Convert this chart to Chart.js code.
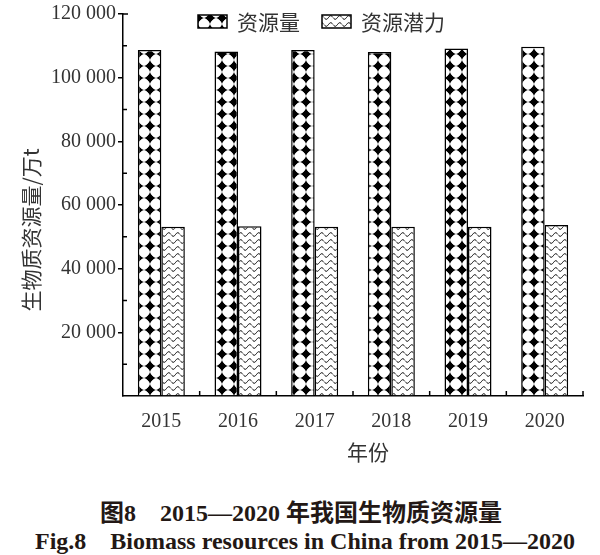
<!DOCTYPE html>
<html>
<head>
<meta charset="utf-8">
<script src="https://cdn.jsdelivr.net/npm/chart.js@4.4.1/dist/chart.umd.min.js"></script>
<style>
    body { margin: 0; background: #fff; overflow: hidden; }
    #wrap { position: relative; width: 600px; height: 555px; }
    #chart { position: absolute; left: 0; top: 0; }
    .cap { position: absolute; font-weight: bold; color: #231815;
           font-family: "Liberation Serif", "Noto Sans CJK SC", serif; font-size: 24px; white-space: pre; line-height: 28px; }
</style>
</head>
<body>
<div id="wrap">
    <canvas id="chart" width="600" height="470"></canvas>
    <div class="cap" style="top:499px; left:100px;">图8　2015—2020 年我国生物质资源量</div>
    <div class="cap" style="top:527px; left:35px;">Fig.8　Biomass resources in China from 2015—2020</div>
</div>
<script>
const years = ['2015', '2016', '2017', '2018', '2019', '2020'];
const resourceAmount = [108700, 108200, 108700, 108100, 109200, 109700];
const resourcePotential = [53200, 53300, 53200, 53200, 53200, 53700];
const yTicks = [20000, 40000, 60000, 80000, 100000, 120000];

const numFont = { family: '"Liberation Serif", serif', size: 20 };
const cjkFont = '"Noto Sans CJK SC", sans-serif';
const textColor = '#333';

// diamond / star tile for 资源量
function diamondPattern() {
    const c = document.createElement('canvas');
    c.width = 12; c.height = 12;
    const g = c.getContext('2d');
    g.fillStyle = '#fff';
    g.fillRect(0, 0, 12, 12);
    g.fillStyle = '#000';
    g.beginPath();
    g.moveTo(6, 0);
    g.quadraticCurveTo(7.2, 4.8, 12, 6);
    g.quadraticCurveTo(7.2, 7.2, 6, 12);
    g.quadraticCurveTo(4.8, 7.2, 0, 6);
    g.quadraticCurveTo(4.8, 4.8, 6, 0);
    g.fill();
    g.beginPath();
    g.moveTo(6, 1.5); g.lineTo(10.5, 6); g.lineTo(6, 10.5); g.lineTo(1.5, 6);
    g.closePath();
    g.fill();
    return g.createPattern(c, 'repeat');
}

// wavy lines tile for 资源潜力
function wavePattern() {
    const c = document.createElement('canvas');
    c.width = 9; c.height = 7;
    const g = c.getContext('2d');
    g.fillStyle = '#fff';
    g.fillRect(0, 0, 9, 7);
    g.strokeStyle = '#000';
    g.lineWidth = 1;
    g.beginPath();
    for (let x = 0; x <= 9; x += 0.5) {
        const y = 3.5 + 1.8 * Math.sin(x / 9 * Math.PI * 2);
        if (x === 0) g.moveTo(x, y); else g.lineTo(x, y);
    }
    g.stroke();
    return g.createPattern(c, 'repeat');
}

const fmt = v => String(v).replace(/\B(?=(\d{3})+(?!\d))/g, ' ');

// inward minor ticks on y, inward boundary ticks on x, legend and axis titles
const decoPlugin = {
    id: 'deco',
    afterDraw(chart) {
        const ctx = chart.ctx;
        const area = chart.chartArea;
        const x = chart.scales.x, y = chart.scales.y;
        ctx.save();
        ctx.strokeStyle = '#000';
        ctx.lineWidth = 1.5;
        ctx.beginPath();
        for (let v = 10000; v < 120000; v += 20000) {
            const py = y.getPixelForValue(v);
            ctx.moveTo(area.left, py); ctx.lineTo(area.left + 4, py);
        }
        const top = y.getPixelForValue(120000);
        ctx.moveTo(area.left, top); ctx.lineTo(area.left + 5, top);
        for (let i = 0; i < years.length; i++) {
            const px = i < years.length - 1
                ? (x.getPixelForValue(i) + x.getPixelForValue(i + 1)) / 2
                : area.right;
            ctx.moveTo(px, area.bottom); ctx.lineTo(px, area.bottom - 5);
        }
        ctx.stroke();

        // legend
        const ds = chart.data.datasets;
        const boxes = [[198, 15], [322, 15]];
        ctx.font = '21px ' + cjkFont;
        ctx.textBaseline = 'middle';
        ctx.textAlign = 'left';
        ds.forEach((d, i) => {
            const [bx, by] = boxes[i];
            ctx.fillStyle = d.backgroundColor;
            ctx.fillRect(bx, by, 29, 13);
            ctx.lineWidth = 1.5;
            ctx.strokeRect(bx, by, 29, 13);
            ctx.fillStyle = textColor;
            ctx.fillText(d.label, bx + 39, by + 7);
        });

        // axis titles
        ctx.fillStyle = textColor;
        ctx.font = '21px ' + cjkFont;
        ctx.textAlign = 'center';
        ctx.fillText('年份', 368, 452);
        ctx.translate(31, 230);
        ctx.rotate(-Math.PI / 2);
        ctx.fillText('生物质资源量/万t', 0, 0);
        ctx.restore();
    }
};

new Chart(document.getElementById('chart'), {
    type: 'bar',
    data: {
        labels: years,
        datasets: [
            { label: '资源量', data: resourceAmount, backgroundColor: diamondPattern(),
              borderColor: '#000', borderWidth: 1.5 },
            { label: '资源潜力', data: resourcePotential, backgroundColor: wavePattern(),
              borderColor: '#000', borderWidth: 1.5 }
        ]
    },
    options: {
        responsive: false,
        animation: false,
        layout: { padding: { top: 13, right: 17, left: 0, bottom: 0 } },
        datasets: { bar: { categoryPercentage: 0.613, barPercentage: 1 } },
        plugins: { legend: { display: false }, tooltip: { enabled: false } },
        scales: {
            x: {
                grid: { display: false },
                border: { display: true, color: '#000', width: 1.5 },
                ticks: { font: numFont, color: textColor, padding: 6 },
                afterFit(s) { s.height = 470 - 396; }
            },
            y: {
                min: 0, max: 120000,
                grid: { drawOnChartArea: false, tickLength: 5, color: '#000', lineWidth: 1.5,
                        tickColor: c => (c.tick && yTicks.includes(c.tick.value)) ? '#000' : 'rgba(0,0,0,0)' },
                border: { display: true, color: '#000', width: 1.5 },
                ticks: {
                    stepSize: 10000, font: numFont, color: textColor, padding: 2,
                    callback: v => yTicks.includes(v) ? fmt(v) : ''
                },
                afterFit(s) { s.width = 123; }
            }
        }
    },
    plugins: [decoPlugin]
});
</script>
</body>
</html>
